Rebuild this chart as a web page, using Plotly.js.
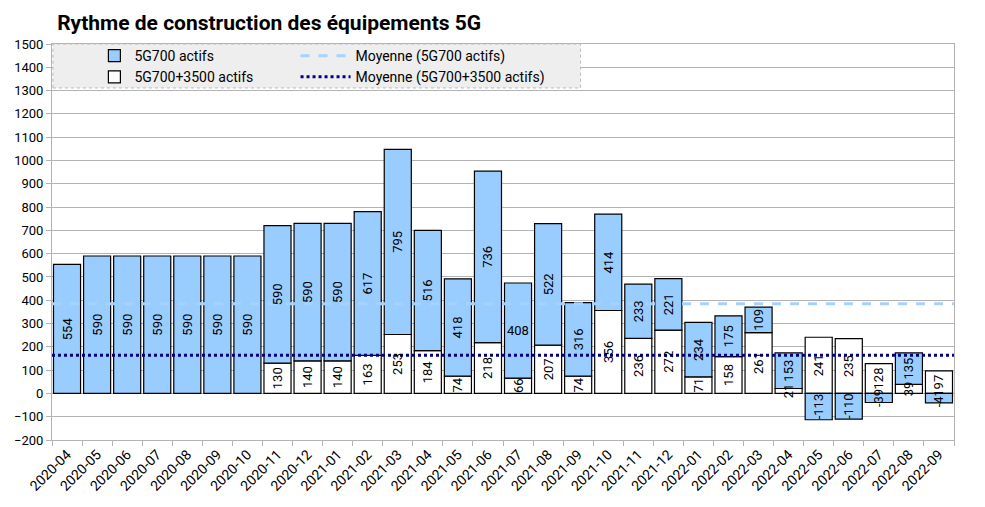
<!DOCTYPE html>
<html>
<head>
<meta charset="utf-8">
<script src="https://cdn.plot.ly/plotly-3.0.1.min.js"></script>
<style>
  html, body { margin: 0; padding: 0; background: #fff; }
  #chart { width: 985px; height: 507px; }
</style>
</head>
<body>
<div id="chart"></div>
<script>
// months shown on the x axis
var months = ['2020-04', '2020-05', '2020-06', '2020-07', '2020-08', '2020-09', '2020-10',
  '2020-11', '2020-12', '2021-01', '2021-02', '2021-03', '2021-04', '2021-05', '2021-06',
  '2021-07', '2021-08', '2021-09', '2021-10', '2021-11', '2021-12', '2022-01', '2022-02',
  '2022-03', '2022-04', '2022-05', '2022-06', '2022-07', '2022-08', '2022-09'];

// 5G700+3500 actifs (bottom, white) - nothing before 2020-11
var dual = [null, null, null, null, null, null, null,
  130, 140, 140, 163, 253, 184, 74, 218,
  66, 207, 74, 356, 236, 272, 71, 158,
  261, 21, 241, 235, 128, 39, 97];

// 5G700 actifs (top, blue)
var low = [554, 590, 590, 590, 590, 590, 590,
  590, 590, 590, 617, 795, 516, 418, 736,
  408, 522, 316, 414, 233, 221, 234, 175,
  109, 153, -113, -110, -39, 135, -41];

// month whose label is written flat instead of rotated
var flatLabel = '2021-07';

function mean(arr) {
  var s = 0, n = 0;
  for (var i = 0; i < arr.length; i++) {
    if (arr[i] !== null) { s += arr[i]; n++; }
  }
  return s / n;
}

var meanLow = mean(low);
var meanDual = mean(dual);

var lowText = low.map(function (v, i) { return months[i] === flatLabel ? '' : String(v); });
var dualText = dual.map(function (v) { return v === null ? '' : String(v); });

var labelFont = { family: 'Roboto, sans-serif', size: 13, color: '#000' };
var xr = [-0.5, months.length - 0.5];

function barTrace(name, y, color, rank) {
  return {
    name: name,
    type: 'bar',
    x: months,
    y: y,
    textposition: 'none',
    marker: { color: color, line: { color: '#000000', width: 1.2 } },
    legend: 'legend',
    legendrank: rank,
    hoverinfo: 'x+y+name'
  };
}

// invisible copies on an overlaid axis, only to carry the labels above everything
function labelTrace(y, txt) {
  return {
    type: 'bar',
    x: months,
    y: y,
    xaxis: 'x3',
    yaxis: 'y',
    text: txt,
    textposition: 'inside',
    insidetextanchor: 'middle',
    textangle: -90,
    constraintext: 'none',
    cliponaxis: false,
    textfont: labelFont,
    insidetextfont: labelFont,
    marker: { color: 'rgba(0,0,0,0)', line: { width: 0 } },
    showlegend: false,
    hoverinfo: 'skip'
  };
}

var data = [
  barTrace('5G700+3500 actifs', dual, '#ffffff', 2),
  barTrace('5G700 actifs', low, '#99ccff', 1),
  {
    name: 'Moyenne (5G700 actifs)',
    type: 'scatter',
    mode: 'lines',
    x: [0, 1],
    y: [meanLow, meanLow],
    xaxis: 'x2',
    yaxis: 'y',
    line: { color: '#a6d2ff', width: 3, dash: 'dash' },
    legend: 'legend2',
    legendrank: 1,
    hoverinfo: 'y+name'
  },
  {
    name: 'Moyenne (5G700+3500 actifs)',
    type: 'scatter',
    mode: 'lines',
    x: [0, 1],
    y: [meanDual, meanDual],
    xaxis: 'x2',
    yaxis: 'y',
    line: { color: '#000080', width: 3, dash: 'dot' },
    legend: 'legend2',
    legendrank: 2,
    hoverinfo: 'y+name'
  },
  labelTrace(dual, dualText),
  labelTrace(low, lowText)
];

// annotation for the single flat label, placed at the middle of its segment
var fi = months.indexOf(flatLabel);
var annotations = [{
  x: months[fi],
  y: (dual[fi] || 0) + low[fi] / 2,
  xref: 'x',
  yref: 'y',
  text: String(low[fi]),
  showarrow: false,
  font: labelFont
}];

var legendFont = { family: 'Roboto, sans-serif', size: 14, color: '#000' };

var layout = {
  width: 985,
  height: 507,
  paper_bgcolor: '#ffffff',
  plot_bgcolor: '#ffffff',
  margin: { l: 52, r: 31, t: 44, b: 67 },
  font: { family: 'Roboto, sans-serif', size: 13, color: '#000' },
  title: {
    text: '<b>Rythme de construction des équipements 5G</b>',
    font: { family: 'Roboto, sans-serif', size: 21, color: '#000' },
    xref: 'container',
    yref: 'container',
    x: 0.058,
    xanchor: 'left',
    y: 0.955,
    yanchor: 'middle'
  },
  barmode: 'relative',
  bargap: 0.1,
  showlegend: true,
  xaxis: {
    type: 'category',
    range: xr,
    tickangle: -45,
    tickson: 'boundaries',
    ticks: 'outside',
    ticklen: 5,
    tickcolor: '#b3b3b3',
    showline: true,
    linecolor: '#b3b3b3',
    linewidth: 1,
    mirror: true,
    showgrid: false,
    tickfont: { family: 'Roboto, sans-serif', size: 14, color: '#000' }
  },
  xaxis2: {
    overlaying: 'x',
    range: [0, 1],
    visible: false,
    fixedrange: true
  },
  xaxis3: {
    type: 'category',
    overlaying: 'x',
    range: xr,
    visible: false,
    fixedrange: true
  },
  yaxis: {
    range: [-200, 1500],
    dtick: 100,
    tick0: 0,
    ticks: 'outside',
    ticklen: 5,
    tickcolor: '#b3b3b3',
    showline: true,
    linecolor: '#b3b3b3',
    linewidth: 1,
    mirror: true,
    showgrid: true,
    gridcolor: '#b3b3b3',
    gridwidth: 1,
    zeroline: false,
    tickfont: { family: 'Roboto, sans-serif', size: 13, color: '#000' }
  },
  legend: {
    x: 0.047,
    y: 1.01,
    xanchor: 'left',
    yanchor: 'top',
    orientation: 'v',
    bgcolor: 'rgba(0,0,0,0)',
    borderwidth: 0,
    tracegroupgap: 0,
    itemwidth: 30,
    font: legendFont
  },
  legend2: {
    x: 0.27,
    y: 1.01,
    xanchor: 'left',
    yanchor: 'top',
    orientation: 'v',
    bgcolor: 'rgba(0,0,0,0)',
    borderwidth: 0,
    tracegroupgap: 0,
    itemwidth: 50,
    font: legendFont
  },
  shapes: [{
    type: 'rect',
    xref: 'paper',
    yref: 'paper',
    x0: 0.001,
    x1: 0.586,
    y0: 0.889,
    y1: 1,
    fillcolor: '#eeeeee',
    line: { color: '#b8b8b8', width: 1, dash: 'dot' },
    layer: 'above'
  }],
  annotations: annotations
};

Plotly.newPlot('chart', data, layout, { displayModeBar: false, staticPlot: true });
</script>
</body>
</html>
